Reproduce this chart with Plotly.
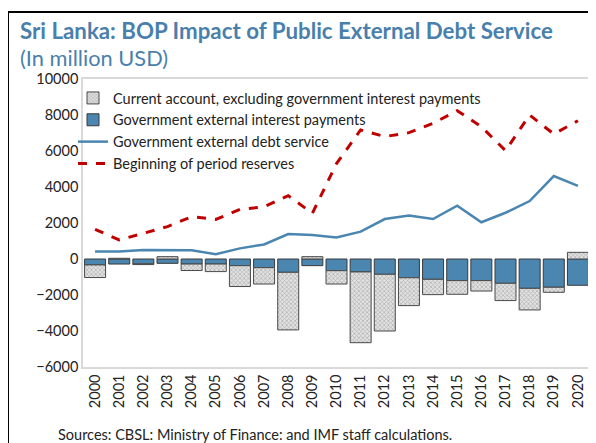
import plotly.graph_objects as go

years = [str(y) for y in range(2000, 2021)]

# Current account, excluding government interest payments (million USD)
current_account = [-700, 40, -40, 130, -360, -420, -1160, -910, -3200, 130,
                   -740, -3930, -3150, -1550, -850, -760, -580, -960, -1200, -280, 370]

# Government external interest payments
interest_payments = [-330, -280, -270, -240, -280, -280, -370, -480, -740, -370,
                     -650, -720, -850, -1040, -1130, -1200, -1200, -1350, -1630, -1570, -1460]

# Government external debt service
debt_service = [410, 410, 500, 500, 480, 260, 590, 810, 1390, 1330,
                1190, 1520, 2220, 2410, 2220, 2960, 2040, 2570, 3220, 4610, 4060]

# Beginning of period reserves
reserves = [1650, 1060, 1430, 1800, 2350, 2200, 2760, 2900, 3520, 2540,
            5300, 7170, 6800, 7020, 7540, 8240, 7350, 6020, 8000, 6940, 7680]

TITLE_BLUE = "#4a7fac"
BAR_BLUE = "#4a86b0"
FONT = "Lato, 'Open Sans', sans-serif"

# the page body has an 8px margin, so the figure sits at (8, 8) in the window
OFF = 8
W, H = 596 - OFF, 443 - OFF
# plot area in window pixels: x 83..590, y 79..367
PL, PR, PT, PB = 83, 590, 79, 367


def px(x):
    return (x - PL) / (PR - PL)


def py(y):
    return (PB - y) / (PB - PT)


fig = go.Figure()

fig.add_trace(go.Bar(
    x=years, y=interest_payments,
    name="Government external interest payments",
    marker=dict(color=BAR_BLUE, line=dict(color="#3a3a3a", width=1)),
    legendrank=2,
))
fig.add_trace(go.Bar(
    x=years, y=current_account,
    name="Current account, excluding government interest payments",
    marker=dict(
        color="#d8d8d8",
        line=dict(color="#4a4a4a", width=1),
        pattern=dict(shape="x", fgcolor="#858585", bgcolor="#e2e2e2", size=3, solidity=0.45),
    ),
    legendrank=1,
))
fig.add_trace(go.Scatter(
    x=years, y=debt_service, mode="lines",
    name="Government external debt service",
    line=dict(color=BAR_BLUE, width=2.5),
    legendrank=3,
))
fig.add_trace(go.Scatter(
    x=years, y=reserves, mode="lines",
    name="Beginning of period reserves",
    line=dict(color="#c00000", width=3, dash="dash"),
    legendrank=4,
))

fig.update_layout(
    width=W, height=H,
    margin=dict(l=PL - OFF, r=596 - PR, t=PT - OFF, b=443 - PB, autoexpand=False),
    barmode="relative",
    bargap=0.13,
    plot_bgcolor="white",
    paper_bgcolor="white",
    font=dict(family=FONT, size=14, color="#222222"),
    legend=dict(
        x=px(73), y=py(82), xanchor="left", yanchor="top",
        bgcolor="rgba(0,0,0,0)", font=dict(size=14.5),
        tracegroupgap=0, itemwidth=30,
    ),
    showlegend=True,
)

fig.update_yaxes(
    range=[-6000, 10000], dtick=2000, tickformat="d",
    showgrid=False, zeroline=False, automargin=False,
    showline=True, linecolor="#d9d9d9", linewidth=1.5, mirror=True,
    tickfont=dict(size=14.5, color="#222222"),
)
fig.update_xaxes(
    tickangle=-90, showgrid=False, automargin=False,
    showline=True, linecolor="#d9d9d9", linewidth=1.5, mirror=True,
    tickfont=dict(size=14.5, color="#222222"),
)

fig.add_annotation(
    text="<b>Sri Lanka: BOP Impact of Public External Debt Service</b>",
    xref="paper", yref="paper", x=px(18), y=py(31), xanchor="left", yanchor="middle",
    showarrow=False, font=dict(family=FONT, size=22.3, color=TITLE_BLUE),
)
fig.add_annotation(
    text="(In million USD)", xref="paper", yref="paper",
    x=px(18), y=py(57), xanchor="left", yanchor="middle",
    showarrow=False, font=dict(family=FONT, size=21.8, color=TITLE_BLUE),
)
fig.add_annotation(
    text="Sources: CBSL: Ministry of Finance: and IMF staff calculations.",
    xref="paper", yref="paper",
    x=px(56), y=py(434), xanchor="left", yanchor="middle",
    showarrow=False, font=dict(family=FONT, size=14.5, color="#222222"),
)

# outer black frame (left and top edges visible)
fig.add_shape(type="line", xref="paper", yref="paper",
              x0=px(8), x1=px(8), y0=py(460), y1=py(12),
              line=dict(color="black", width=2))
fig.add_shape(type="line", xref="paper", yref="paper",
              x0=px(8), x1=px(610), y0=py(12), y1=py(12),
              line=dict(color="black", width=2))

fig.write_html("out.html")
